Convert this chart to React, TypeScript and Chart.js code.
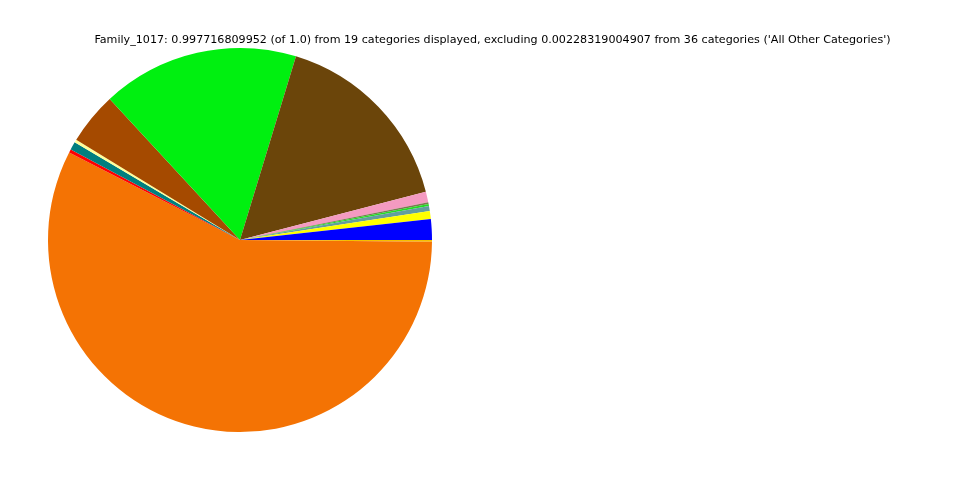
import React, { useEffect, useRef } from "react";
import { Chart, registerables } from "chart.js";

Chart.register(...registerables);

// Share of each category, listed counter-clockwise from 3 o'clock.
const categories = [
  "Cat_01", "Cat_02", "Cat_03", "Cat_04", "Cat_05", "Cat_06", "Cat_07",
  "Cat_08", "Cat_09", "Cat_10", "Cat_11", "Cat_12", "Cat_13", "Cat_14",
];
const shares = [
  0.0175, 0.0067, 0.0042, 0.0017, 0.0014, 0.0089, 0.1625,
  0.1658, 0.0439, 0.0025, 0.0067, 0.0028, 0.574, 0.0014,
];
const colors = [
  "#0000ff", "#ffff00", "#629e9e", "#22dd22", "#7a7a50", "#f49ac1", "#6b450a",
  "#00f010", "#a54a00", "#ffff99", "#007f7f", "#ff0000", "#f47304", "#f5c000",
];
const titleText =
  "Family_1017: 0.997716809952 (of 1.0) from 19 categories displayed, excluding 0.00228319004907 from 36 categories ('All Other Categories')";

const titlePlugin = {
  id: "topTitle",
  afterDraw(chart: Chart) {
    const ctx = chart.ctx;
    ctx.save();
    ctx.font = "11.14px 'DejaVu Sans'";
    ctx.fillStyle = "#000";
    ctx.textAlign = "center";
    ctx.textBaseline = "middle";
    ctx.fillText(titleText, 492.5, 40);
    ctx.restore();
  },
};

export default function App() {
  const ref = useRef<HTMLCanvasElement>(null);
  useEffect(() => {
    if (!ref.current) return;
    // Chart.js draws clockwise, so feed the slices in reverse, starting at 3 o'clock.
    const chart = new Chart(ref.current, {
      type: "pie",
      data: {
        labels: [...categories].reverse(),
        datasets: [
          {
            data: [...shares].reverse(),
            backgroundColor: [...colors].reverse(),
            borderWidth: 0,
          },
        ],
      },
      options: {
        animation: false,
        responsive: false,
        rotation: 90,
        layout: { padding: { left: 48, right: 528, top: 48, bottom: 48 } },
        plugins: { legend: { display: false }, tooltip: { enabled: false }, title: { display: false } },
      },
      plugins: [titlePlugin],
    });
    return () => chart.destroy();
  }, []);
  return (
    <div style={{ position: "absolute", left: 0, top: 0, width: 960, height: 480, background: "#fff" }}>
      <canvas ref={ref} width={960} height={480} />
    </div>
  );
}
